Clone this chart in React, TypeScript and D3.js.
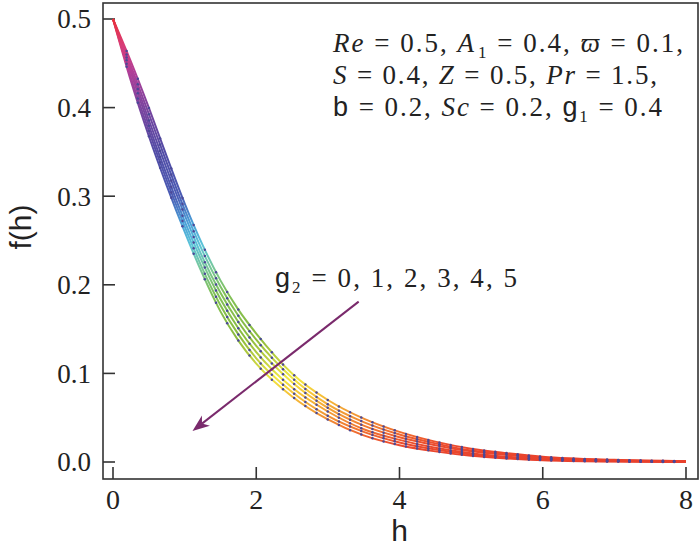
import { useRef, useEffect } from "react";
import * as d3 from "d3";

// eta grid and f(eta) for gamma2 = 0..5
const H = [0, 0.25, 0.5, 0.75, 1, 1.25, 1.5, 1.75, 2, 2.5, 3, 3.5, 4, 4.5, 5, 5.5, 6, 7, 8];
const F_G0 = [0.5, 0.452, 0.4, 0.345, 0.292, 0.245, 0.205, 0.172, 0.145, 0.1, 0.07, 0.049, 0.034, 0.023, 0.015, 0.01, 0.006, 0.0025, 0.001];
const F_G1 = [0.5, 0.447, 0.393, 0.338, 0.285, 0.238, 0.198, 0.165, 0.138, 0.095, 0.065, 0.045, 0.031, 0.021, 0.013, 0.009, 0.005, 0.002, 0.0008];
const F_G2 = [0.5, 0.443, 0.386, 0.331, 0.279, 0.231, 0.191, 0.158, 0.131, 0.09, 0.061, 0.041, 0.028, 0.019, 0.012, 0.008, 0.0045, 0.0015, 0.0006];
const F_G3 = [0.5, 0.439, 0.38, 0.324, 0.272, 0.225, 0.184, 0.151, 0.124, 0.084, 0.057, 0.037, 0.025, 0.016, 0.01, 0.006, 0.0035, 0.001, 0.0004];
const F_G4 = [0.5, 0.434, 0.374, 0.318, 0.266, 0.218, 0.177, 0.144, 0.117, 0.079, 0.052, 0.034, 0.022, 0.014, 0.0085, 0.005, 0.0028, 0.0008, 0.0002];
const F_G5 = [0.5, 0.43, 0.368, 0.312, 0.26, 0.212, 0.17, 0.137, 0.111, 0.074, 0.048, 0.03, 0.019, 0.012, 0.007, 0.004, 0.002, 0.0005, 0];
const SERIES = [F_G0, F_G1, F_G2, F_G3, F_G4, F_G5];

const X_TICKS = [0, 2, 4, 6, 8];
const Y_TICKS = [0, 0.1, 0.2, 0.3, 0.4, 0.5];

// colour by f value
const COLOR_STOPS: [number, string][] = [
  [0.5, "#e8303a"],
  [0.47, "#d83c78"],
  [0.44, "#b03f98"],
  [0.4, "#7a449e"],
  [0.35, "#524ca6"],
  [0.3, "#4a5cb4"],
  [0.27, "#4aa0d8"],
  [0.245, "#5cc4d8"],
  [0.22, "#78c89c"],
  [0.19, "#80c058"],
  [0.14, "#8cbc3c"],
  [0.115, "#c0d040"],
  [0.095, "#f0e840"],
  [0.075, "#f6c038"],
  [0.055, "#f29a34"],
  [0.035, "#f07030"],
  [0.02, "#ec4c2e"],
  [0, "#e8402c"],
];

const SERIF = "Liberation Serif, DejaVu Serif, Times New Roman, Times, serif";
const SANS = "Liberation Sans, Arial, Helvetica, sans-serif";

export default function App() {
  const svgRef = useRef<SVGSVGElement>(null);
  const width = 700;
  const height = 551;

  const x = d3.scaleLinear().domain([0, 8]).range([113, 686]);
  const y = d3.scaleLinear().domain([0, 0.5]).range([462, 19]);
  const frame = { left: 103, top: 3, right: 698, bottom: 479 };

  const line = d3
    .line<number>()
    .x((_, i) => x(H[i]))
    .y((d) => y(d))
    .curve(d3.curveMonotoneX);

  useEffect(() => {
    if (!svgRef.current) return;
    const svg = d3.select(svgRef.current);
    const mesh = svg.select<SVGGElement>("g.mesh");
    mesh.selectAll("*").remove();
    const meshH = d3.range(0.19, 7.95, 0.156);
    svg.selectAll<SVGPathElement, unknown>("path.curve").each(function () {
      const p = this;
      const total = p.getTotalLength();
      meshH.forEach((h) => {
        const tx = x(h);
        let lo = 0;
        let hi = total;
        for (let k = 0; k < 28; k++) {
          const mid = (lo + hi) / 2;
          if (p.getPointAtLength(mid).x < tx) lo = mid;
          else hi = mid;
        }
        const pt = p.getPointAtLength(lo);
        mesh
          .append("circle")
          .attr("cx", pt.x)
          .attr("cy", pt.y)
          .attr("r", 1.25)
          .attr("fill", "#4a4898");
      });
    });
  }, []);

  // arrow in data coordinates
  const tail = [x(3.43), y(0.181)];
  const tip = [x(1.11), y(0.035)];
  const dx = tip[0] - tail[0];
  const dy = tip[1] - tail[1];
  const len = Math.hypot(dx, dy);
  const ux = dx / len;
  const uy = dy / len;
  const nx = -uy;
  const ny = ux;
  const headL = 17;
  const headW = 6.5;
  const back = [tip[0] - headL * ux, tip[1] - headL * uy];
  const notch = [tip[0] - 12 * ux, tip[1] - 12 * uy];
  const head = [
    tip,
    [back[0] + headW * nx, back[1] + headW * ny],
    notch,
    [back[0] - headW * nx, back[1] - headW * ny],
  ]
    .map((p) => p.join(","))
    .join(" ");

  const sub = { fontSize: 17 };

  return (
    <svg
      ref={svgRef}
      width={width}
      height={height}
      style={{ position: "absolute", left: 0, top: 0, background: "#fff" }}
    >
      <defs>
        <linearGradient id="fgrad" gradientUnits="userSpaceOnUse" x1={0} x2={0} y1={y(0.5)} y2={y(0)}>
          {COLOR_STOPS.map(([v, c]) => (
            <stop key={v} offset={(0.5 - v) / 0.5} stopColor={c} />
          ))}
        </linearGradient>
      </defs>

      <rect
        x={frame.left}
        y={frame.top}
        width={frame.right - frame.left}
        height={frame.bottom - frame.top}
        fill="none"
        stroke="#333"
        strokeWidth={1.6}
      />

      {Y_TICKS.map((t) => (
        <g key={t}>
          <line x1={frame.left} x2={frame.left + 12} y1={y(t)} y2={y(t)} stroke="#333" strokeWidth={1.6} />
          <text
            x={frame.left - 12}
            y={y(t)}
            dy="0.35em"
            textAnchor="end"
            style={{ fontFamily: SERIF }}
            fontSize={27}
            fill="#222"
          >
            {t.toFixed(1)}
          </text>
        </g>
      ))}
      {X_TICKS.map((t) => (
        <g key={t}>
          <line x1={x(t)} x2={x(t)} y1={frame.bottom} y2={frame.bottom - 12} stroke="#333" strokeWidth={1.6} />
          <text x={x(t)} y={frame.bottom + 30} textAnchor="middle" style={{ fontFamily: SERIF }} fontSize={28} fill="#222">
            {t}
          </text>
        </g>
      ))}

      <text x={x(4)} y={541} textAnchor="middle" style={{ fontFamily: SANS }} fontSize={30} fill="#222">
        h
      </text>
      <text
        transform={`translate(31,${227}) rotate(-90)`}
        textAnchor="middle"
        style={{ fontFamily: SANS }}
        fontSize={30}
        fill="#222"
      >
        f(h)
      </text>

      {SERIES.map((s, i) => (
        <path
          key={i}
          className="curve"
          d={line(s) || ""}
          fill="none"
          stroke="url(#fgrad)"
          strokeWidth={2}
        />
      ))}
      <g className="mesh" />

      <line x1={tail[0]} y1={tail[1]} x2={notch[0]} y2={notch[1]} stroke="#7a2a6c" strokeWidth={2} />
      <polygon points={head} fill="#7a2a6c" />

      <g style={{ fontFamily: SERIF }} fontSize={27} fill="#222">
        <text x={333} y={52} textLength={350} lengthAdjust="spacing">
          <tspan fontStyle="italic">Re</tspan>
          {" = 0.5, "}
          <tspan fontStyle="italic">A</tspan>
          <tspan dx={2} dy={6} {...sub}>1</tspan>
          <tspan dy={-6}>{" = 0.4, "}</tspan>
          <tspan fontStyle="italic">ϖ</tspan>
          {" = 0.1,"}
        </text>
        <text x={333} y={84} textLength={324} lengthAdjust="spacing">
          <tspan fontStyle="italic">S</tspan>
          {" = 0.4, "}
          <tspan fontStyle="italic">Z</tspan>
          {" = 0.5, "}
          <tspan fontStyle="italic">Pr</tspan>
          {" = 1.5,"}
        </text>
        <text x={333} y={116} textLength={329} lengthAdjust="spacing">
          <tspan style={{ fontFamily: SANS }}>b</tspan>
          {" = 0.2, "}
          <tspan fontStyle="italic">Sc</tspan>
          {" = 0.2, "}
          <tspan style={{ fontFamily: SANS }}>g</tspan>
          <tspan dy={6} {...sub}>1</tspan>
          <tspan dy={-6}>{" = 0.4"}</tspan>
        </text>
        <text x={275} y={287} textLength={242} lengthAdjust="spacing">
          <tspan style={{ fontFamily: SANS }}>g</tspan>
          <tspan dy={6} {...sub}>2</tspan>
          <tspan dy={-6}>{" = 0, 1, 2, 3, 4, 5"}</tspan>
        </text>
      </g>
    </svg>
  );
}
